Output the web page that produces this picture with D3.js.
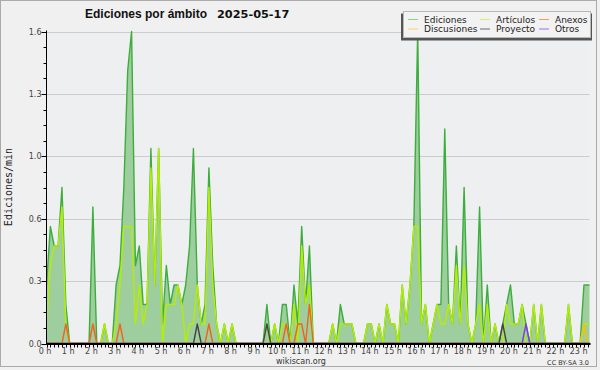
<!DOCTYPE html>
<html><head><meta charset="utf-8">
<script src="https://cdn.jsdelivr.net/npm/d3@7"></script>
<style>body{margin:0;background:#f0f0f0}svg{display:block}</style>
</head><body><svg id="c" width="600" height="370"></svg>
<script>
// ---- data (10-minute steps starting 00:00) ----
const stepMinutes = 10;
const hourLabels = d3.range(24).map(h => h + " h");
const yTickValues = [0, 0.32, 0.64, 0.96, 1.28, 1.6];
const yTickLabels = ["0.0", "0.3", "0.6", "1.0", "1.3", "1.6"];
const seriesNames = ["Ediciones", "Artículos", "Anexos", "Discusiones", "Proyecto", "Otros"];

const ediciones = [
 0.3,0.6,0.5,0.5,0.8,0.2,0,0,0,0,0,0,0.7,0,0,0.1,0,0,0.3,0.4,
 0.8,1.4,1.6,0.4,0.5,0.2,0.2,1.0,0.3,1.0,0.1,0.4,0.2,0.3,0.3,0.2,0.3,0.5,1.0,0.3,
 0.1,0.2,0.9,0.4,0.1,0,0.1,0,0.1,0,0,0,0,0,0,0,0,0.2,0,0.1,
 0,0.2,0.2,0,0.3,0.1,0.6,0.2,0.5,0,0,0,0,0,0.1,0,0.2,0.1,0.1,0.1,
 0,0,0,0.1,0.1,0,0.1,0,0.2,0.1,0.1,0,0.3,0.1,0.3,0.6,1.6,0.1,0.2,0,
 0.1,0.2,0.2,1.1,0.2,0.1,0.5,0.1,0.8,0.1,0,0.1,0.7,0,0.3,0,0.1,0,0.1,0.2,
 0.3,0.1,0.1,0.2,0.1,0,0.2,0,0.2,0,0,0,0,0,0,0.2,0,0,0,0.3,
 0.3,0.3];
const articulos = [
 0.1,0.4,0.5,0.5,0.7,0.1,0,0,0,0,0,0,0,0,0,0.1,0,0,0.1,0.3,
 0.6,0.6,0.6,0.1,0.3,0.1,0.2,0.9,0.3,1.0,0,0.2,0.2,0.2,0.3,0.2,0,0.1,0.1,0.3,
 0.1,0.1,0.8,0.3,0.1,0,0.1,0,0.1,0,0,0,0,0,0,0,0,0.1,0,0.1,
 0,0.1,0.1,0,0.2,0,0.5,0.2,0.3,0,0,0,0,0,0.1,0,0.1,0.1,0.1,0.1,
 0,0,0,0.1,0.1,0,0.1,0,0.2,0.1,0.1,0,0.3,0.1,0.3,0.6,0.6,0.1,0.2,0,
 0.1,0.2,0.1,0.1,0.2,0.1,0.4,0.1,0.4,0.1,0,0.1,0.2,0,0.2,0,0.1,0,0,0.2,
 0.1,0.1,0.1,0.2,0,0,0.2,0,0.2,0,0,0,0,0,0,0.2,0,0,0,0.1,
 0.1,0.1];
const anexos = [
 0,0,0,0,0,0.1,0,0,0,0,0,0,0.1,0,0,0,0,0,0,0.1,
 0,0,0,0,0,0,0,0,0,0,0,0,0,0,0,0,0,0,0,0,
 0,0,0.1,0,0,0,0,0,0,0,0,0,0,0,0,0,0,0,0,0,
 0,0,0.1,0,0,0.1,0.1,0,0.2,0,0,0,0,0,0,0,0,0,0,0,
 0,0,0,0,0,0,0,0,0,0,0,0,0,0,0,0,0,0,0,0,
 0,0,0,0,0,0,0,0,0,0,0,0,0,0,0,0,0,0,0,0,
 0,0,0,0,0,0,0,0,0,0,0,0,0,0,0,0,0,0,0,0,
 0,0];
const discusiones = [
 0,0,0,0,0,0,0,0,0,0,0,0,0,0,0,0,0,0,0,0,
 0,0,0,0,0,0,0,0,0,0,0,0,0,0,0,0,0,0,0,0,
 0,0,0,0,0,0,0,0,0,0,0,0,0,0,0,0,0,0,0,0,
 0,0,0,0,0,0,0,0,0,0,0,0,0,0,0,0,0,0,0,0,
 0,0,0,0,0,0,0,0,0,0,0,0,0,0,0,0,0,0,0,0,
 0,0,0,0,0,0,0,0,0,0,0,0,0,0,0,0,0,0,0,0,
 0,0,0,0,0,0,0,0,0,0,0,0,0,0,0,0,0,0,0,0.1,
 0,0];
const proyecto = [
 0,0,0,0,0,0,0,0,0,0,0,0,0,0,0,0,0,0,0,0,
 0,0,0,0,0,0,0,0,0,0,0,0,0,0,0,0,0,0,0,0.1,
 0,0,0,0,0,0,0,0,0,0,0,0,0,0,0,0,0,0.1,0,0,
 0,0,0,0,0,0,0,0,0,0,0,0,0,0,0,0,0,0,0,0,
 0,0,0,0,0,0,0,0,0,0,0,0,0,0,0,0,0,0,0,0,
 0,0,0,0,0,0,0,0,0,0,0,0,0,0,0,0,0,0,0.1,0,
 0,0,0,0,0,0,0,0,0,0,0,0,0,0,0,0,0,0,0,0,
 0,0];
const otros = [
 0,0,0,0,0,0,0,0,0,0,0,0,0,0,0,0,0,0,0,0,
 0,0,0,0,0,0,0,0,0,0,0,0,0,0,0,0,0,0,0,0,
 0,0,0,0,0,0,0,0,0,0,0,0,0,0,0,0,0,0,0,0,
 0,0,0,0,0,0,0,0,0,0,0,0,0,0,0,0,0,0,0,0,
 0,0,0,0,0,0,0,0,0,0,0,0,0,0,0,0,0,0,0,0,
 0,0,0,0,0,0,0,0,0,0,0,0,0,0,0,0,0,0,0,0,
 0,0,0,0,0.1,0,0,0,0,0,0,0,0,0,0,0,0,0,0,0,
 0,0];

// ---- styling ----
const lineColors = ["#3cae3c", "#b6ee00", "#f0641e", "#f5c400", "#444444", "#7a3cf0"];
const legendColors = ["#8fd08f", "#d2f06e", "#f49a6a", "#f8d868", "#6a6a6a", "#a070f0"];
const areaFill = "#9ecd9e";

const svg = d3.select("#c");
const W = 600, H = 370;
const plot = {left: 46.5, right: 589.5, top: 31.5, bottom: 343.5};
const hourPx = 23.2;

svg.append("rect").attr("x",0).attr("y",0).attr("width",W).attr("height",H).attr("fill","#f0f0f0");
svg.append("rect").attr("x",0.5).attr("y",0.5).attr("width",596).attr("height",366)
  .attr("fill","none").attr("stroke","#aaaaaa");

const x = d3.scaleLinear().domain([0, 24*60]).range([plot.left, plot.left + hourPx*24]);
const y = d3.scaleLinear().domain([0, 1.6]).range([plot.bottom, plot.top]);

// plot background
svg.append("rect").attr("x",plot.left).attr("y",plot.top).attr("width",plot.right-plot.left)
  .attr("height",plot.bottom-plot.top).attr("fill","#eeeff1");

// gridlines
svg.append("g").selectAll("line").data(yTickValues.slice(1)).join("line")
  .attr("x1",plot.left).attr("x2",plot.right)
  .attr("y1",d=>Math.round(y(d))+0.5).attr("y2",d=>Math.round(y(d))+0.5)
  .attr("stroke","#cccccc").attr("stroke-width",1);

const clip = svg.append("defs").append("clipPath").attr("id","pc").append("rect")
  .attr("x",plot.left).attr("y",0).attr("width",plot.right-plot.left).attr("height",plot.bottom+1);

const g = svg.append("g").attr("clip-path","url(#pc)");
const xi = (d,i) => x(i*stepMinutes);
const area = d3.area().x(xi).y0(y(0)).y1(d=>y(d));
const line = d3.line().x(xi).y(d=>y(d));

g.append("path").datum(ediciones).attr("d",area).attr("fill",areaFill);
const allSeries = [ediciones, articulos, anexos, discusiones, proyecto, otros];
allSeries.forEach((s,k) => {
  g.append("path").datum(s).attr("d",line).attr("fill","none")
    .attr("stroke",lineColors[k]).attr("stroke-width", 1.4).attr("stroke-linejoin","round");
});

// axes
svg.append("line").attr("x1",plot.left).attr("x2",plot.left).attr("y1",plot.top-1).attr("y2",plot.bottom+1)
  .attr("stroke","#000").attr("stroke-width",1);
svg.append("line").attr("x1",plot.left).attr("x2",plot.right+1).attr("y1",plot.bottom+0.5).attr("y2",plot.bottom+0.5)
  .attr("stroke","#000").attr("stroke-width",2);

// y ticks
const yMinor = d3.range(0, 1.6001, 0.08);
svg.append("g").selectAll("line").data(yMinor).join("line")
  .attr("x1",plot.left-3).attr("x2",plot.left)
  .attr("y1",d=>Math.round(y(d))+0.5).attr("y2",d=>Math.round(y(d))+0.5).attr("stroke","#000");
svg.append("g").selectAll("line").data(yTickValues).join("line")
  .attr("x1",plot.left-5).attr("x2",plot.left)
  .attr("y1",d=>Math.round(y(d))+0.5).attr("y2",d=>Math.round(y(d))+0.5).attr("stroke","#000");
svg.append("g").selectAll("text").data(yTickValues).join("text")
  .attr("x",plot.left-5).attr("y",d=>y(d)+3).attr("text-anchor","end")
  .attr("font-family","DejaVu Sans").attr("font-size",8).attr("fill","#444")
  .text((d,i)=>yTickLabels[i]);

// x ticks
const xMinor = d3.range(0, 24*60+1, stepMinutes).filter(m => x(m) <= plot.right+0.5);
svg.append("g").selectAll("line").data(xMinor).join("line")
  .attr("x1",d=>Math.round(x(d))+0.5).attr("x2",d=>Math.round(x(d))+0.5)
  .attr("y1",plot.bottom).attr("y2",plot.bottom+4).attr("stroke","#000");
svg.append("g").selectAll("text").data(hourLabels).join("text")
  .attr("x",(d,i)=>x(i*60)-1.5).attr("y",354).attr("text-anchor","middle")
  .attr("font-family","DejaVu Sans").attr("font-size",8).attr("fill","#444")
  .text(d=>d);

// axis title
svg.append("text").attr("transform","translate(12,187) rotate(-90)").attr("text-anchor","middle")
  .attr("font-family","DejaVu Sans Mono").attr("font-size",10).attr("fill","#222").text("Ediciones/min");

// title
svg.append("text").attr("x",85).attr("y",18).attr("font-family","Liberation Sans, Arial").attr("font-weight","bold")
  .attr("font-size",12).attr("fill","#111").text("Ediciones por ámbito");
svg.append("text").attr("x",217).attr("y",18).attr("font-family","DejaVu Sans").attr("font-weight","bold")
  .attr("font-size",11.3).attr("fill","#111").text("2025-05-17");

// footer
svg.append("text").attr("x",301).attr("y",364).attr("text-anchor","middle")
  .attr("font-family","DejaVu Sans").attr("font-size",8).attr("fill","#333").text("wikiscan.org");
svg.append("text").attr("x",589).attr("y",365).attr("text-anchor","end")
  .attr("font-family","DejaVu Sans").attr("font-size",6.5).attr("fill","#333").text("CC BY-SA 3.0");

// legend
const lg = svg.append("g");
lg.append("rect").attr("x",401).attr("y",13.5).attr("width",191).attr("height",27).attr("fill","#555");
lg.append("rect").attr("x",403.5).attr("y",11.5).attr("width",187).attr("height",26)
  .attr("fill","#f2f2f2").attr("stroke","#b8b8b8");
const colX = [408, 480, 539];
seriesNames.forEach((n,k) => {
  const cx = colX[k%3], cy = k<3 ? 19.5 : 29;
  lg.append("line").attr("x1",cx).attr("x2",cx+10).attr("y1",cy).attr("y2",cy)
    .attr("stroke",legendColors[k]).attr("stroke-width",1);
  lg.append("text").attr("x",cx+16).attr("y",cy+3.2).attr("font-family","DejaVu Sans")
    .attr("font-size",9).attr("fill","#222").text(n);
});
</script></body></html>
